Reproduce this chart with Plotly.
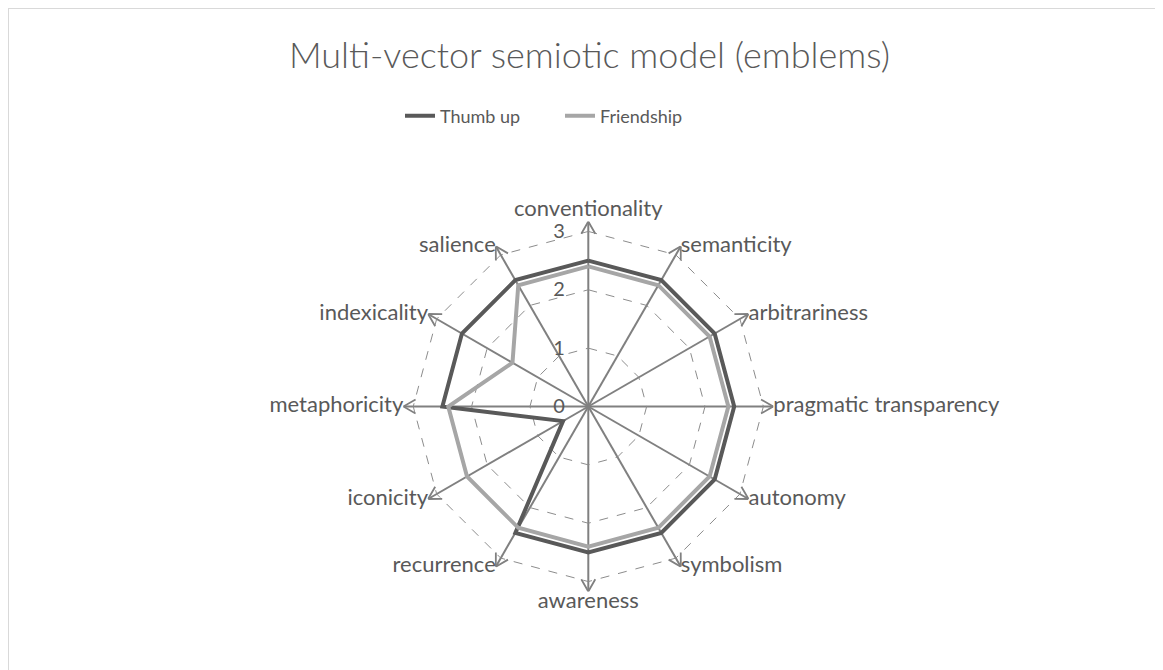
import math
import plotly.graph_objects as go

categories = ["conventionality", "semanticity", "arbitrariness", "pragmatic transparency",
              "autonomy", "symbolism", "awareness", "recurrence", "iconicity",
              "metaphoricity", "indexicality", "salience"]
thumb_up = [2.5, 2.5, 2.5, 2.5, 2.5, 2.5, 2.5, 2.5, 0.5, 2.5, 2.5, 2.5]
friendship = [2.4, 2.4, 2.4, 2.4, 2.4, 2.4, 2.4, 2.4, 2.4, 2.4, 1.5, 2.4]
radial_ticks = [0, 1, 2, 3]

TXT = "#595959"
FONT = "Lato"
R_MAX = 3.17
W, H = 1163, 670

n = len(categories)
angles = [i * 360.0 / n for i in range(n)]

fig = go.Figure()

# dashed polygonal grid at each radial tick
for t in radial_ticks[1:]:
    fig.add_trace(go.Scatterpolar(r=[t] * (n + 1), theta=angles + angles[:1], mode="lines",
                                  line=dict(color="#8c8c8c", width=1, dash="dash"),
                                  showlegend=False, hoverinfo="skip"))

# arrowheads at the end of each spoke
b, w = 0.21, 0.12
ar_r, ar_t = [], []
for a in angles:
    rw = math.hypot(R_MAX - b, w)
    dt = math.degrees(math.atan2(w, R_MAX - b))
    ar_r += [rw, R_MAX, rw, None]
    ar_t += [a - dt, a, a + dt, None]
fig.add_trace(go.Scatterpolar(r=ar_r, theta=ar_t, mode="lines",
                              line=dict(color="#808080", width=1.8),
                              showlegend=False, hoverinfo="skip"))

fig.add_trace(go.Scatterpolar(r=thumb_up + thumb_up[:1], theta=angles + angles[:1],
                              mode="lines", name="Thumb up",
                              line=dict(color="#595959", width=4)))
fig.add_trace(go.Scatterpolar(r=friendship + friendship[:1], theta=angles + angles[:1],
                              mode="lines", name="Friendship",
                              line=dict(color="#a6a6a6", width=4)))

# category labels at the arrow tips
def label_pos(a):
    a = a % 360
    if a == 0:
        return "top center"
    if a == 180:
        return "bottom center"
    return "middle right" if a < 180 else "middle left"

fig.add_trace(go.Scatterpolar(r=[R_MAX] * n, theta=angles, mode="text",
                              text=categories,
                              textposition=[label_pos(a) for a in angles],
                              textfont=dict(family=FONT, size=22, color=TXT),
                              showlegend=False, hoverinfo="skip", cliponaxis=False))

cx, cy, rad = 580.3, 398.5, 185
fig.update_layout(
    width=W, height=H,
    margin=dict(l=0, r=0, t=0, b=0),
    paper_bgcolor="white",
    font=dict(family=FONT, color=TXT),
    title=dict(text="Multi-vector semiotic model (emblems)", x=0.5, xanchor="center",
               y=1 - 47 / H, yanchor="middle", yref="container",
               font=dict(family=FONT, size=36, color=TXT, weight=300)),
    legend=dict(orientation="h", x=392 / W, xanchor="left", y=1 - 108 / H,
                yanchor="middle", font=dict(family=FONT, size=18, color=TXT),
                entrywidth=115, entrywidthmode="pixels"),
    polar=dict(
        domain=dict(x=[(cx - rad) / W, (cx + rad) / W],
                    y=[1 - (cy + rad) / H, 1 - (cy - rad) / H]),
        bgcolor="white",
        angularaxis=dict(rotation=90, direction="clockwise",
                         tickvals=angles, ticktext=categories,
                         ticks="", showline=False, showticklabels=False,
                         showgrid=True, gridcolor="#808080", gridwidth=1.8),
        radialaxis=dict(range=[0, R_MAX], tickvals=radial_ticks,
                        angle=90, side="counterclockwise", tickangle=90,
                        showline=False, ticks="outside", ticklen=16,
                        tickcolor="rgba(0,0,0,0)",
                        showgrid=False,
                        tickfont=dict(family=FONT, size=20, color=TXT)),
    ),
    shapes=[dict(type="rect", xref="paper", yref="paper",
                 x0=0, x1=1, y0=0, y1=1,
                 line=dict(color="#d9d9d9", width=2), layer="below")],
)

fig.write_html("out.html")
